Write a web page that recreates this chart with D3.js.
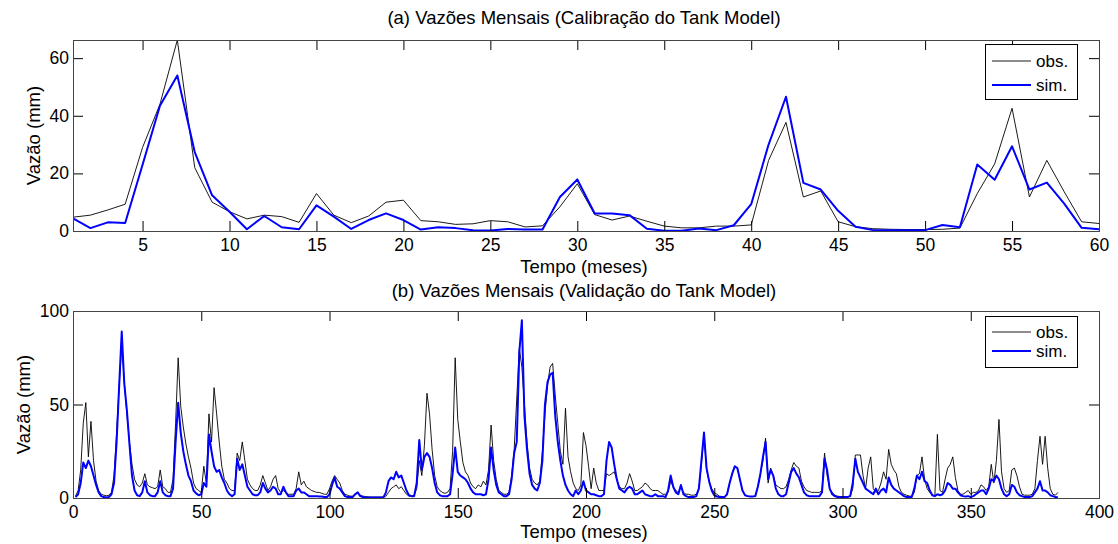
<!DOCTYPE html>
<html><head><meta charset="utf-8">
<script src="https://cdn.jsdelivr.net/npm/d3@7"></script>
<style>
body{margin:0;background:#fff;}
svg{display:block;font-family:"Liberation Sans",Arial,Helvetica,sans-serif;}
</style>
</head><body>
<svg id="c" width="1118" height="544"></svg>
<script>
// ---------- data ----------
const monthsA = d3.range(1, 61);
const obsA = [4.8,5.5,7.3,9.3,29,44,66.3,22,10,6.7,
  4.2,5.5,5,3,13,5.5,2.9,5.2,10,10.7,
  3.6,3.2,2.3,2.5,3.6,3.2,1.4,1.8,8.4,16.4,
  5.7,3.8,5.2,3.4,1.7,1.1,1.1,1.7,1.7,2.1,
  24.5,37.7,11.8,13.9,3.2,1.5,0.8,0.6,0.5,0.5,
  0.6,1,13,23.3,42.6,11.8,24.5,13.6,3.2,2.6];
const simA = [4.4,1,3,2.8,23,43.5,54,27.4,12.4,6.7,
  0.6,5.2,1.3,0.6,8.9,5,0.7,3.8,6.1,3.8,
  0.5,1.3,1,0.3,0.2,0.7,0.5,0.5,11.8,17.9,
  6.1,6.1,5.5,0.8,0.1,0.1,0.9,0.3,2,9.3,
  30,46.6,16.7,14.4,7,1.5,0.3,0.3,0.3,0.3,
  2.1,1.3,23.1,17.8,29.4,14.4,16.8,9.5,1.1,0.6];

const monthsB = d3.range(1, 385);
const obsB = [1,4,15,40,51,22,41,20,9,4,
  2,1.5,1.2,1.5,3,12,35,60,82,62,
  45,30,18,10,7,6,8,13,7,6,
  5.5,5,6,15,6,5,3,3,10,40,
  75,49,38,29,22,16,8,5,4,3,
  17,8,45,30,59,45,30,17,10,8,
  5,4,4,24,20,30,20,10,7,5,
  4,4,7,12,8,4,6,10,12,5,
  3,4,3,2,2,2,5,14,7,9,
  6,5,4,3.5,3,3,2.5,2,2,5,
  9,12,10,8,4,2,1.5,1,1,2,
  2.5,1.5,1,0.8,0.6,0.5,0.5,0.5,0.5,0.5,
  0.5,1,3,5,6,7,5,6,4,2,
  1,1,1.5,5,20,12,28,56,45,26,
  12,6,4,3,2.5,3,5,25,75,42,
  30,19,14,12,8,6,5,7,6,9,
  7,15,39,20,10,4,3,2,2,3,
  12,26,53,80,70,50,30,16,10,8,
  7,9,25,45,60,70,72,55,40,25,
  18,48,22,14,8,5,4,7,35,28,
  17,5,16,8,4,4,4,13,12,13,
  14,10,6,5,5,8,13,9,4,4,
  5,6,8,7,5,4,4,4,3,2,
  2,3,9,6,4,3,6,3,2,2,
  1.5,1.5,2,5,18,34,15,9,5,3,
  2,1,0.8,0.8,2,8,13,17,16,10,
  4,1.5,1,0.8,0.8,1,6,13,20,32,
  8,16,12,7,6,5,5,6,10,15,
  19,17,16,9,6,4,3.5,3,3,3,
  3,4,24,12,5,3,1.5,1,0.8,0.8,
  0.8,0.8,1,5,23,23,23,12,5,16,
  22,5,3,4,8,14,10,26,18,15,
  13,6,3,2,1.5,1,1,3,12,13,
  22,10,5,3,1.5,1,34,4,3,10,
  16,18,22,11,4,2,2,3,4,2,
  3,3,4,7,6,4,6,18,8,20,
  42,14,5,3,4,15,16,12,6,2,
  1.5,1.5,1.5,2,5,20,33,18,33,16,
  5,2,1.5,3];
const simB = [0.5,2,8,19,16,20,17,12,7,3,
  1,0.5,0.3,0.5,2,8,30,60,89,61,
  47,29,12,4,1.5,1,3,9,3,1.5,
  1,1,3,9,3,1.5,1,1,5,30,
  51,35,25,18,12,9,4,2.5,1.5,2,
  8,6,34,25,17,14,15,11,8,4,
  2,1,2,21,15,18,12,6,4,2,
  1.5,1.5,3,8,5,3,4,6,5,2,
  2,6,3,1,1,1,4,5,3,3,
  2,1,1,1,1,0.8,0.8,0.5,0.5,2,
  7,11,6,5,3,1,0.5,0.5,0.5,2,
  3,1,0.5,0.3,0.3,0.3,0.3,0.3,0.3,0.3,
  0.3,3,9,11,10,14,11,12,8,4,
  1.5,1,1,8,31,15,22,24,22,16,
  8,3,1.5,1,1,1,2,13,27,14,
  12,11,10,8,5,3,2,2,2,1.5,
  2,10,27,15,7,3,2,1,1,2,
  10,24,30,78,95,44,26,13,7,5,
  4,8,20,50,62,66,67,44,30,20,
  12,7,4,2,1,4,2,4,9,4,
  3,2,2,1.5,1,1,2,20,30,27,
  18,10,5,4,3,5,6,5,2,2,
  3,4,2,1.5,1,1,2,1,1,1,
  0.5,4,12,6,3,2,7,2,1,0.5,
  0.5,0.5,1,5,20,35,16,9,4,1.5,
  0.8,0.5,0.5,0.5,2,8,13,17,16,10,
  4,1.5,1,0.8,0.8,1,6,13,22,30,
  10,15,12,5,2,1,1,2,8,14,
  16,13,11,7,3,1.5,1,1,1,1,
  1,3,21,15,5,2,1,0.5,0.5,0.5,
  0.5,0.5,1,8,21,14,11,8,5,4,
  3,2,5,2,4,5,3,11,7,5,
  4,3,2,1,0.5,0.5,0.5,5,12,10,
  14,9,8,4,1.5,1,2,1.5,2,4,
  8,7,5,5,3,1.5,1,0.8,1,0.5,
  1,2,3,4,4,2,5,10,9,12,
  10,5,2,1,2,7,6,3,1.5,1,
  0.5,0.5,0.5,1,3,5,9,4,4,3,
  1.5,1,0.5,0.3];

const ticksAx = [5,10,15,20,25,30,35,40,45,50,55,60];
const ticksAy = [0,20,40,60];
const ticksBx = [0,50,100,150,200,250,300,350,400];
const ticksBy = [0,50,100];
const seriesNames = ["obs.", "sim."];
const titleA = "(a) Vazões Mensais (Calibração do Tank Model)";
const titleB = "(b) Vazões Mensais (Validação do Tank Model)";
const xLabel = "Tempo (meses)";
const yLabel = "Vazão (mm)";

// ---------- drawing ----------
const svg = d3.select("#c");
const TICK = 10;
const FS_TICK = "17.5px", FS_LABEL = "18.5px", FS_LEG = "17px";

function drawPanel(o) {
  const x = d3.scaleLinear().domain(o.xDomain).range([o.left, o.right]);
  const y = d3.scaleLinear().domain(o.yDomain).range([o.bottom, o.top]);
  const clipId = o.id + "-clip";
  svg.append("clipPath").attr("id", clipId).append("rect")
    .attr("x", o.left).attr("y", o.top - 1)
    .attr("width", o.right - o.left).attr("height", o.bottom - o.top + 2);

  const g = svg.append("g");
  const mk = (xs) => d3.line().x((d, i) => x(xs[i])).y(d => y(d));
  g.append("path").datum(o.obs).attr("clip-path", `url(#${clipId})`)
    .attr("fill", "none").attr("stroke", "#000").attr("stroke-width", 0.9)
    .attr("stroke-linejoin", "round").attr("d", mk(o.xs));
  g.append("path").datum(o.sim).attr("clip-path", `url(#${clipId})`)
    .attr("fill", "none").attr("stroke", "#0000ff").attr("stroke-width", 2)
    .attr("stroke-linejoin", "round").attr("d", mk(o.xs));

  const styleAxis = (sel, labels) => {
    sel.select(".domain").attr("stroke", "#444");
    sel.selectAll(".tick line").attr("stroke", "#000");
    sel.selectAll(".tick text").attr("fill", "#000")
      .style("font-size", FS_TICK).style("font-family", '"Liberation Sans",Arial,sans-serif');
    if (!labels) sel.selectAll(".tick text").remove();
  };
  svg.append("g").attr("transform", `translate(0,${o.bottom})`)
    .call(d3.axisBottom(x).tickValues(o.xTicks).tickSizeInner(-TICK).tickSizeOuter(0).tickPadding(8).tickFormat(d3.format("d")))
    .call(s => styleAxis(s, true));
  svg.append("g").attr("transform", `translate(0,${o.top})`)
    .call(d3.axisTop(x).tickValues(o.xTicks).tickSizeInner(-TICK).tickSizeOuter(0))
    .call(s => styleAxis(s, false));
  svg.append("g").attr("transform", `translate(${o.left},0)`)
    .call(d3.axisLeft(y).tickValues(o.yTicks).tickSizeInner(-TICK).tickSizeOuter(0).tickPadding(4).tickFormat(d3.format("d")))
    .call(s => styleAxis(s, true));
  svg.append("g").attr("transform", `translate(${o.right},0)`)
    .call(d3.axisRight(y).tickValues(o.yTicks).tickSizeInner(-TICK).tickSizeOuter(0))
    .call(s => styleAxis(s, false));
  // box
  svg.append("rect").attr("x", o.left + 0.5).attr("y", o.top + 0.5)
    .attr("width", o.right - o.left).attr("height", o.bottom - o.top)
    .attr("fill", "none").attr("stroke", "#444").attr("stroke-width", 1);

  // title and labels
  svg.append("text").attr("x", o.cx).attr("y", o.titleY)
    .attr("text-anchor", "middle").style("font-size", FS_LABEL).text(o.title);
  svg.append("text").attr("x", o.cx).attr("y", o.xLabelY)
    .attr("text-anchor", "middle").style("font-size", FS_LABEL).text(xLabel);
  svg.append("text").attr("transform", `translate(${o.yLabelX},${(o.top + o.bottom) / 2}) rotate(-90)`)
    .attr("text-anchor", "middle").style("font-size", FS_LABEL).text(yLabel);

  // legend
  const L = o.legend;
  svg.append("rect").attr("x", L.x + 0.5).attr("y", L.y + 0.5).attr("width", L.w).attr("height", L.h)
    .attr("fill", "#fff").attr("stroke", "#000").attr("stroke-width", 1);
  const colors = ["#000", "#0000ff"], widths = [0.9, 2];
  seriesNames.forEach((n, i) => {
    const cy = L.rows[i];
    svg.append("line").attr("x1", L.x + 7).attr("x2", L.x + 46).attr("y1", cy).attr("y2", cy)
      .attr("stroke", colors[i]).attr("stroke-width", widths[i]);
    svg.append("text").attr("x", L.x + 51).attr("y", cy + 6).style("font-size", FS_LEG).text(n);
  });
}

drawPanel({
  id: "a", left: 73, right: 1099, top: 40, bottom: 231, cx: 584,
  xDomain: [1, 60], yDomain: [0, 66.3], xTicks: ticksAx, yTicks: ticksAy,
  xs: monthsA, obs: obsA, sim: simA,
  title: titleA, titleY: 24, xLabelY: 273, yLabelX: 40,
  legend: { x: 985, y: 44, w: 92, h: 55, rows: [61, 85] }
});
drawPanel({
  id: "b", left: 73, right: 1099, top: 311, bottom: 498, cx: 584,
  xDomain: [0, 400], yDomain: [0, 100], xTicks: ticksBx, yTicks: ticksBy,
  xs: monthsB, obs: obsB, sim: simB,
  title: titleB, titleY: 297, xLabelY: 538, yLabelX: 30,
  legend: { x: 985, y: 316, w: 92, h: 51, rows: [332, 351] }
});
</script>
</body></html>
